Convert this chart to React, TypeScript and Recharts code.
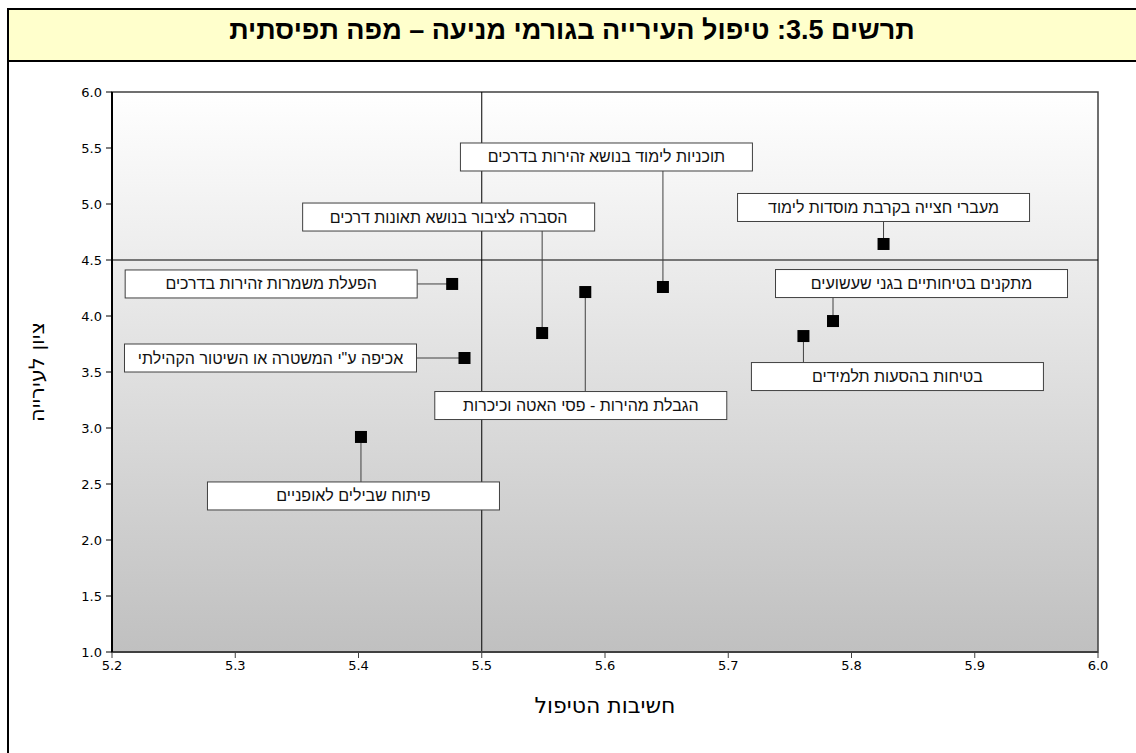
import React from "react";
import {
  ScatterChart,
  Scatter,
  XAxis,
  YAxis,
  ReferenceLine,
  ReferenceArea,
  Label,
} from "recharts";

// ---- data ----
const itemNames = [
  "מעברי חצייה בקרבת מוסדות לימוד",
  "תוכניות לימוד בנושא זהירות בדרכים",
  "הסברה לציבור בנושא תאונות דרכים",
  "הגבלת מהירות - פסי האטה וכיכרות",
  "הפעלת משמרות זהירות בדרכים",
  "אכיפה ע\"י המשטרה או השיטור הקהילתי",
  "פיתוח שבילים לאופניים",
  "מתקנים בטיחותיים בגני שעשועים",
  "בטיחות בהסעות תלמידים",
];
const importanceValues = [5.826, 5.647, 5.549, 5.584, 5.476, 5.486, 5.402, 5.785, 5.761];
const municipalityScores = [4.643, 4.259, 3.848, 4.214, 4.286, 3.625, 2.92, 3.955, 3.821];
const xTicks = [5.2, 5.3, 5.4, 5.5, 5.6, 5.7, 5.8, 5.9, 6.0];
const yTicks = [1.0, 1.5, 2.0, 2.5, 3.0, 3.5, 4.0, 4.5, 5.0, 5.5, 6.0];
const titleText = "תרשים 3.5: טיפול העירייה בגורמי מניעה – מפה תפיסתית";
const xAxisTitle = "חשיבות הטיפול";
const yAxisTitle = "ציון לעירייה";
const importanceThreshold = 5.5;
const scoreThreshold = 4.5;

// ---- label layout (box centre offset from the point, leader direction) ----
const labelLayout = [
  { dx: 0, dy: -36.5, leader: "v" },
  { dx: -56.5, dy: -130, leader: "v" },
  { dx: -93.5, dy: -116, leader: "v" },
  { dx: -4.5, dy: 113.5, leader: "v" },
  { dx: -181, dy: 0, leader: "h" },
  { dx: -194, dy: 0, leader: "h" },
  { dx: -7.5, dy: 59, leader: "v" },
  { dx: 88.5, dy: -37.5, leader: "v" },
  { dx: 94, dy: 40.5, leader: "v" },
];

const points = itemNames.map((name, i) => ({
  name,
  x: importanceValues[i],
  y: municipalityScores[i],
  i,
}));

const BOX_W = 292;
const BOX_H = 28;
const MARK = 12;
const FONT = "'Liberation Sans', Arial, sans-serif";
const TICK_FONT = "'DejaVu Sans', Tahoma, sans-serif";

const renderPoint = (props: any) => {
  const { cx, cy, payload } = props;
  if (cx == null || cy == null) return <g />;
  const lay = labelLayout[payload.i];
  const bx = cx + lay.dx;
  const by = cy + lay.dy;
  let leader;
  if (lay.leader === "v") {
    const edge = lay.dy < 0 ? by + BOX_H / 2 : by - BOX_H / 2;
    leader = <line x1={cx} y1={edge} x2={cx} y2={cy} stroke="#404040" strokeWidth={1} />;
  } else {
    const edge = bx + BOX_W / 2;
    leader = <line x1={edge} y1={cy} x2={cx} y2={cy} stroke="#404040" strokeWidth={1} />;
  }
  return (
    <g>
      {leader}
      <rect
        x={bx - BOX_W / 2}
        y={by - BOX_H / 2}
        width={BOX_W}
        height={BOX_H}
        fill="#ffffff"
        stroke="#404040"
        strokeWidth={1}
      />
      <text
        x={bx}
        y={by}
        textAnchor="middle"
        dominantBaseline="central"
        direction="rtl"
        fontFamily={FONT}
        fontSize={16}
        fill="#111"
      >
        {payload.name}
      </text>
      <rect x={cx - MARK / 2} y={cy - MARK / 2} width={MARK} height={MARK} fill="#000" />
    </g>
  );
};

const YTitle = (props: any) => {
  const vb = props.viewBox || {};
  const x = 37;
  const y = vb.y + vb.height / 2;
  return (
    <text
      x={x}
      y={y}
      transform={`rotate(-90 ${x} ${y})`}
      textAnchor="middle"
      dominantBaseline="central"
      direction="rtl"
      fontFamily={TICK_FONT}
      fontSize={21}
      fill="#000"
    >
      {yAxisTitle}
    </text>
  );
};

const XTitle = (props: any) => {
  const vb = props.viewBox || {};
  const x = vb.x + vb.width / 2;
  const y = 705;
  return (
    <text
      x={x}
      y={y}
      textAnchor="middle"
      dominantBaseline="central"
      direction="rtl"
      fontFamily={TICK_FONT}
      fontSize={22}
      fill="#000"
    >
      {xAxisTitle}
    </text>
  );
};

export default function App() {
  return (
    <div
      style={{
        position: "absolute",
        left: 0,
        top: 0,
        width: 1136,
        height: 753,
        overflow: "hidden",
        background: "#ffffff",
      }}
    >
      <svg width={0} height={0} style={{ position: "absolute" }}>
        <defs>
          <linearGradient id="plotBg" x1="0" y1="0" x2="0" y2="1">
            <stop offset="0%" stopColor="#ffffff" />
            <stop offset="100%" stopColor="#c0c0c0" />
          </linearGradient>
        </defs>
      </svg>
      <div
        style={{
          position: "absolute",
          left: 7,
          top: 8,
          width: 1140,
          height: 800,
          border: "2px solid #000",
          boxSizing: "border-box",
        }}
      />
      <div
        style={{
          position: "absolute",
          left: 7,
          top: 8,
          width: 1140,
          height: 54,
          border: "2px solid #000",
          boxSizing: "border-box",
          background: "#ffffcc",
        }}
      />
      <div
        style={{
          position: "absolute",
          left: 8,
          top: 8,
          width: 1128,
          height: 54,
          display: "flex",
          alignItems: "center",
          justifyContent: "center",
          fontFamily: FONT,
          fontWeight: "bold",
          fontSize: 27,
          direction: "rtl",
          color: "#000",
          paddingBottom: 10,
          boxSizing: "border-box",
        }}
      >
        {titleText}
      </div>
      <div style={{ position: "absolute", left: 0, top: 0 }}>
        <ScatterChart
          width={1136}
          height={753}
          margin={{ top: 92, right: 38, bottom: 41, left: 32 }}
        >
          <XAxis
            type="number"
            dataKey="x"
            domain={[5.2, 6.0]}
            ticks={xTicks}
            tickFormatter={(v: number) => v.toFixed(1)}
            allowDataOverflow
            height={60}
            axisLine={{ stroke: "#404040", strokeWidth: 2 }}
            tickLine={{ stroke: "#404040" }}
            tickSize={6}
            tickMargin={3}
            tick={{ fill: "#000", fontSize: 13, fontFamily: TICK_FONT }}
          >
            <Label content={XTitle} />
          </XAxis>
          <YAxis
            type="number"
            dataKey="y"
            domain={[1, 6]}
            ticks={yTicks}
            tickFormatter={(v: number) => v.toFixed(1)}
            allowDataOverflow
            width={80}
            axisLine={{ stroke: "#000", strokeWidth: 2 }}
            tickLine={{ stroke: "#000" }}
            tickSize={6}
            tickMargin={4}
            tick={{ fill: "#000", fontSize: 13, fontFamily: TICK_FONT }}
          >
            <Label content={YTitle} />
          </YAxis>
          <ReferenceArea
            x1={5.2}
            x2={6.0}
            y1={1}
            y2={6}
            fill="url(#plotBg)"
            fillOpacity={1}
            stroke="#404040"
            strokeWidth={1.5}
          />
          <ReferenceLine x={importanceThreshold} stroke="#000" strokeWidth={1} />
          <ReferenceLine y={scoreThreshold} stroke="#000" strokeWidth={1} />
          <Scatter data={points} shape={renderPoint} isAnimationActive={false} />
        </ScatterChart>
      </div>
    </div>
  );
}
